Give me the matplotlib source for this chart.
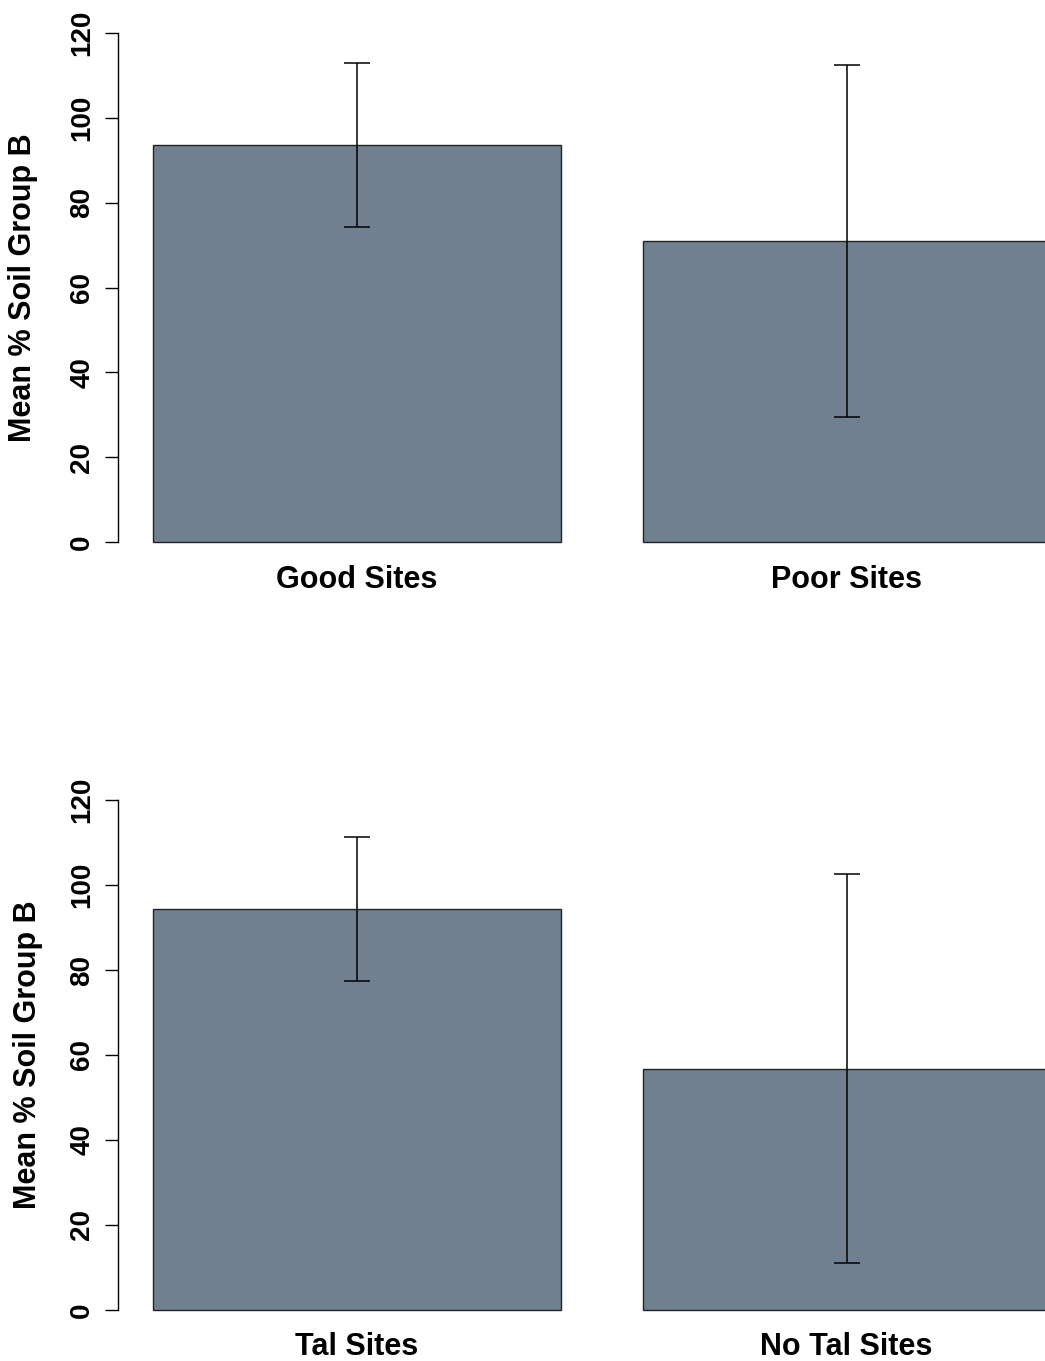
import matplotlib
matplotlib.use("Agg")
import matplotlib.pyplot as plt

plt.rcParams['font.family'] = ['Liberation Sans', 'DejaVu Sans']
plt.rcParams['font.weight'] = 'bold'

# Data
top_categories = ["Good Sites", "Poor Sites"]
top_means = [93.6, 71.0]
top_sd = [19.3, 41.5]

bottom_categories = ["Tal Sites", "No Tal Sites"]
bottom_means = [94.4, 56.8]
bottom_sd = [17.0, 45.7]

y_ticks = [0, 20, 40, 60, 80, 100, 120]
y_label = "Mean % Soil Group B"

W, H = 1045, 1361
DPI = 100
fig = plt.figure(figsize=(W / DPI, H / DPI), dpi=DPI)

bar_color = "#708090"
bar_pos = [0.7, 1.9]
px_per_unit_x = 408.0
axis_left_px = 118.0
xmin = 0.2 - (153 - axis_left_px) / px_per_unit_x
xmax = xmin + (W - axis_left_px) / px_per_unit_x


def make_panel(y0_px, y120_px, cats, means, sds, label_y_px, ylabel_x_px):
    ppu = (y0_px - y120_px) / 120.0
    lo, hi = -5.0, 125.0
    bottom_px = y0_px - lo * ppu
    top_px = y120_px - (hi - 120) * ppu
    ax = fig.add_axes([axis_left_px / W, 1 - bottom_px / H,
                       (W - axis_left_px) / W, (bottom_px - top_px) / H])
    ax.set_xlim(xmin, xmax)
    ax.set_ylim(lo, hi)
    ax.bar(bar_pos, means, width=1.0, color=bar_color, edgecolor="#222222",
           linewidth=1.0, zorder=2)
    ax.errorbar(bar_pos, means, yerr=sds, fmt="none", ecolor="black",
                elinewidth=1.1, capsize=9.4, capthick=1.1, zorder=3)
    for s in ["top", "right", "bottom"]:
        ax.spines[s].set_visible(False)
    ax.spines["left"].set_bounds(0, 120)
    ax.spines["left"].set_linewidth(1.0)
    ax.set_yticks(y_ticks)
    ax.set_yticklabels([str(t) for t in y_ticks], rotation=90, va="center",
                       fontsize=20, fontweight="bold")
    ax.tick_params(axis="y", length=9.4, width=1.0, pad=7)
    ax.set_xticks([])
    for x, c in zip(bar_pos, cats):
        ax.annotate(c, xy=(x, H - label_y_px), xycoords=("data", "figure pixels"),
                    ha="center", va="baseline", fontsize=22, fontweight="bold",
                    annotation_clip=False)
    fig.text(ylabel_x_px / W, 1 - ((y0_px + y120_px) / 2) / H, y_label,
             rotation=90, ha="center", va="center", fontsize=22,
             fontweight="bold")
    return ax


make_panel(542, 33, top_categories, top_means, top_sd, 588, 23)
make_panel(1310, 800, bottom_categories, bottom_means, bottom_sd, 1355, 28)

fig.savefig("out.png", dpi=DPI)
